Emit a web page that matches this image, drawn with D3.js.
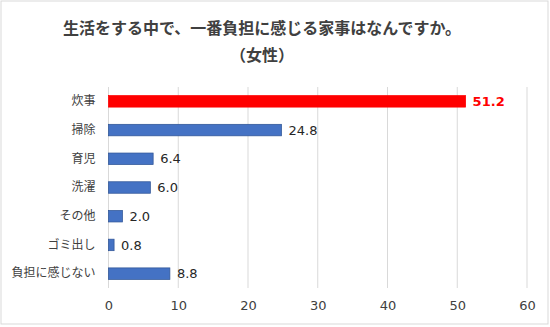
<!DOCTYPE html>
<html><head><meta charset="utf-8">
<script src="https://cdn.jsdelivr.net/npm/d3@7"></script>
<style>
html,body{margin:0;padding:0;background:#fff;}
svg{display:block;}
</style></head>
<body>
<svg id="chart" width="550" height="327"></svg>
<script>
const titleLines = ["生活をする中で、一番負担に感じる家事はなんですか。", "（女性）"];
const categories = ["炊事", "掃除", "育児", "洗濯", "その他", "ゴミ出し", "負担に感じない"];
const values = [51.2, 24.8, 6.4, 6.0, 2.0, 0.8, 8.8];
const tickValues = [0, 10, 20, 30, 40, 50, 60];

const svg = d3.select("#chart");
const W = 550, H = 327;
const m = {left: 108.5, right: 23, top: 87, bottom: 39};

svg.append("rect").attr("x", 1).attr("y", 1).attr("width", W - 3).attr("height", H - 4)
  .attr("fill", "#fff").attr("stroke", "#d9d9d9").attr("stroke-width", 1);

svg.selectAll("text.title").data(titleLines).join("text")
  .attr("class", "title")
  .attr("x", 262).attr("y", (d, i) => 34 + i * 27)
  .attr("text-anchor", "middle")
  .attr("font-family", "'Noto Sans CJK JP', sans-serif")
  .attr("font-weight", "bold").attr("font-size", 16).attr("fill", "#404040")
  .text(d => d);

const x = d3.scaleLinear().domain([0, 60]).range([m.left, W - m.right]);
const y = d3.scaleBand().domain(categories).range([m.top, H - m.bottom]).paddingInner(0.6).paddingOuter(0.3);

// vertical gridlines
svg.append("g").selectAll("line").data(tickValues).join("line")
  .attr("x1", d => x(d)).attr("x2", d => x(d))
  .attr("y1", m.top).attr("y2", H - m.bottom)
  .attr("stroke", "#d9d9d9").attr("stroke-width", 1);

// x axis labels
const xAxis = d3.axisBottom(x).tickValues(tickValues).tickSize(0).tickPadding(13);
const gx = svg.append("g").attr("transform", `translate(0,${H - m.bottom})`).call(xAxis);
gx.select(".domain").remove();
gx.selectAll("text").attr("font-family", "'DejaVu Sans', Verdana, sans-serif")
  .attr("font-size", 13).attr("fill", "#404040");

// category labels
const yAxis = d3.axisLeft(y).tickSize(0).tickPadding(13);
const gy = svg.append("g").attr("transform", `translate(${m.left},0)`).call(yAxis);
gy.select(".domain").remove();
gy.selectAll("text").attr("font-family", "'Noto Sans CJK JP', sans-serif")
  .attr("font-size", 12).attr("fill", "#404040");

const data = categories.map((c, i) => ({c, v: values[i], hi: i === 0}));

svg.append("g").selectAll("rect").data(data).join("rect")
  .attr("x", x(0))
  .attr("y", d => y(d.c))
  .attr("width", d => x(d.v) - x(0))
  .attr("height", y.bandwidth())
  .attr("fill", d => d.hi ? "#ff0000" : "#4472c4")
  .attr("stroke", d => d.hi ? "#ff0000" : "#2f5597")
  .attr("stroke-width", 0.75);

svg.append("g").selectAll("text").data(data).join("text")
  .attr("x", d => x(d.v) + 7)
  .attr("y", d => y(d.c) + y.bandwidth() / 2)
  .attr("dy", "0.36em")
  .attr("font-family", "'DejaVu Sans', Verdana, sans-serif")
  .attr("font-size", 13)
  .attr("font-weight", d => d.hi ? "bold" : "normal")
  .attr("fill", d => d.hi ? "#ff0000" : "#262626")
  .text(d => d.v.toFixed(1));
</script>
</body></html>
